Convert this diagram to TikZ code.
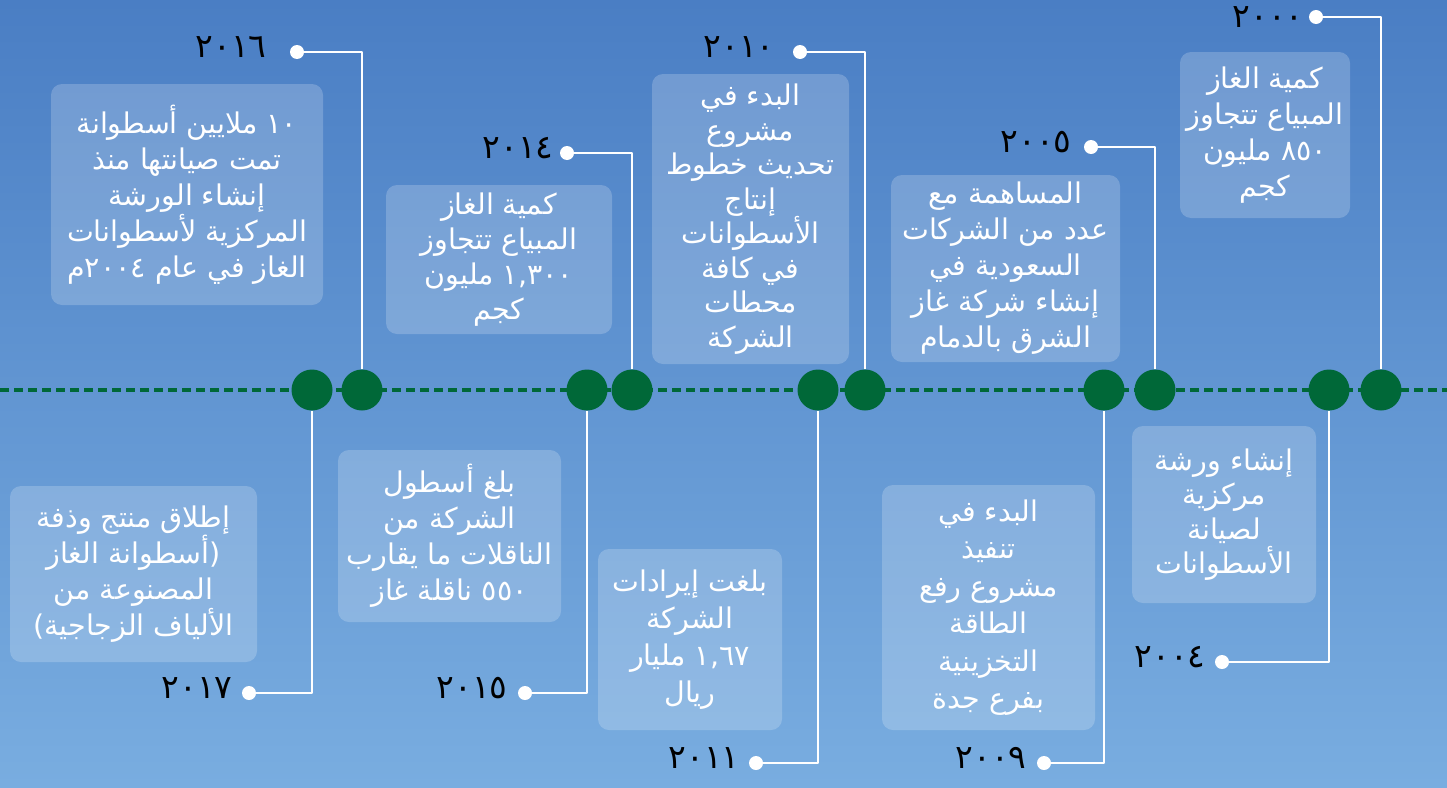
\documentclass[tikz,border=0pt]{standalone}
\usepackage{fontspec}
\usepackage{tikz}
\usetikzlibrary{positioning}
\newfontfamily\arabicfont[Script=Arabic]{DejaVu Sans}
\TeXXeTstate=1
\newcommand{\ar}[1]{\beginR #1\endR}
\definecolor{bgtop}{RGB}{74,126,196}
\definecolor{bgbot}{RGB}{121,173,224}
\definecolor{stopgreen}{RGB}{0,104,56}

\begin{document}
\begin{tikzpicture}[line cap=round,line join=round,x=1pt,y=-1pt,
		evbox/.style={fill=white,fill opacity=0.2,text opacity=1,text=white,rounded corners=11pt,align=center,inner sep=0pt,font=\arabicfont\fontsize{28.5}{36}\selectfont},
		yearlbl/.style={text=black,inner sep=0pt,yshift=5pt,font=\arabicfont\fontsize{33}{33}\selectfont},
		enddot/.style={circle,fill=white,inner sep=0pt,minimum size=14pt},
		stopc/.style={circle,fill=stopgreen,inner sep=0pt,minimum size=41pt},
		stem/.style={white,line width=2.2pt,line cap=butt}]
		% background
		\shade[top color=bgtop,bottom color=bgbot] (0,0) rectangle (1447,787);
		\useasboundingbox (0,0) rectangle (1447,787);
		\draw [stopgreen,line width=4pt,line cap=butt,dash pattern=on 9pt off 5pt] (0,390)-- (1447,390);
		% event boxes, top row
		\node[evbox,minimum width=272pt,minimum height=221pt] (b16) at (187,194.5) {\ar{١٠ ملايين أسطوانة}\\\ar{تمت صيانتها منذ}\\\ar{إنشاء الورشة}\\\ar{المركزية لأسطوانات}\\\ar{الغاز في عام ٢٠٠٤م}};
		\node[evbox,minimum width=226pt,minimum height=149pt,font=\arabicfont\fontsize{28.5}{35}\selectfont] (b14) at (499,259.5) {\ar{كمية الغاز}\\\ar{المبياع تتجاوز}\\\ar{١,٣٠٠ مليون}\\\ar{كجم}};
		\node[evbox,minimum width=197pt,minimum height=290pt,font=\arabicfont\fontsize{28.5}{34.5}\selectfont] (b10) at (750.5,219) {\ar{البدء في}\\\ar{مشروع}\\\ar{تحديث خطوط}\\\ar{إنتاج}\\\ar{الأسطوانات}\\\ar{في كافة}\\\ar{محطات}\\\ar{الشركة}};
		\node[evbox,minimum width=229pt,minimum height=187pt] (b05) at (1005.5,268.5) {\ar{المساهمة مع}\\\ar{عدد من الشركات}\\\ar{السعودية في}\\\ar{إنشاء شركة غاز}\\\ar{الشرق بالدمام}};
		\node[evbox,minimum width=170pt,minimum height=166pt] (b00) at (1265,135) {\ar{كمية الغاز}\\\ar{المبياع تتجاوز}\\\ar{٨٥٠ مليون}\\\ar{كجم}};
		% event boxes, bottom row
		\node[evbox,minimum width=247pt,minimum height=176pt] (b17) at (133.5,574) {\ar{إطلاق منتج وذفة}\\\ar{(أسطوانة الغاز}\\\ar{المصنوعة من}\\\ar{الألياف الزجاجية)}};
		\node[evbox,minimum width=223pt,minimum height=172pt] (b15) at (449.5,536) {\ar{بلغ أسطول}\\\ar{الشركة من}\\\ar{الناقلات ما يقارب}\\\ar{٥٥٠ ناقلة غاز}};
		\node[evbox,minimum width=184pt,minimum height=181pt,font=\arabicfont\fontsize{28.5}{37}\selectfont] (b11) at (690,639.5) {\ar{بلغت إيرادات}\\\ar{الشركة}\\\ar{١,٦٧ مليار}\\\ar{ريال}};
		\node[evbox,minimum width=213pt,minimum height=245pt,font=\arabicfont\fontsize{28.5}{37.5}\selectfont] (b09) at (988.5,607.5) {\ar{البدء في}\\\ar{تنفيذ}\\\ar{مشروع رفع}\\\ar{الطاقة}\\\ar{التخزينية}\\\ar{بفرع جدة}};
		\node[evbox,minimum width=184pt,minimum height=177pt,font=\arabicfont\fontsize{28.5}{34.5}\selectfont] (b04) at (1224,514.5) {\ar{إنشاء ورشة}\\\ar{مركزية}\\\ar{لصيانة}\\\ar{الأسطوانات}};
		% stops on the line
		\node[stopc] (c17) at (312,390) {};
		\node[stopc] (c16) at (362,390) {};
		\node[stopc] (c15) at (587,390) {};
		\node[stopc] (c14) at (632,390) {};
		\node[stopc] (c11) at (818,390) {};
		\node[stopc] (c10) at (865,390) {};
		\node[stopc] (c09) at (1104,390) {};
		\node[stopc] (c05) at (1155,390) {};
		\node[stopc] (c04) at (1329,390) {};
		\node[stopc] (c00) at (1381,390) {};
		% year dots
		\node[enddot] (d16) at (297,52) {};
		\node[enddot] (d14) at (567,153) {};
		\node[enddot] (d10) at (800,52) {};
		\node[enddot] (d05) at (1091,147) {};
		\node[enddot] (d00) at (1316,17) {};
		\node[enddot] (d17) at (249,693) {};
		\node[enddot] (d15) at (525,693) {};
		\node[enddot] (d11) at (756,763) {};
		\node[enddot] (d09) at (1044,763) {};
		\node[enddot] (d04) at (1222,662) {};
		% stems
		\draw [stem] (d16.east) -| (c16.north);
		\draw [stem] (d14.east) -| (c14.north);
		\draw [stem] (d10.east) -| (c10.north);
		\draw [stem] (d05.east) -| (c05.north);
		\draw [stem] (d00.east) -| (c00.north);
		\draw [stem] (d17.east) -| (c17.south);
		\draw [stem] (d15.east) -| (c15.south);
		\draw [stem] (d11.east) -| (c11.south);
		\draw [stem] (d09.east) -| (c09.south);
		\draw [stem] (d04.east) -| (c04.south);
		% years
		\node[yearlbl,left=23pt of d16] (y16) {٢٠١٦};
		\node[yearlbl,left=6pt of d14] (y14) {٢٠١٤};
		\node[yearlbl,left=18pt of d10] (y10) {٢٠١٠};
		\node[yearlbl,left=12pt of d05] (y05) {٢٠٠٥};
		\node[yearlbl,left=5pt of d00,yshift=-5pt] (y00) {٢٠٠٠};
		\node[yearlbl,left=9pt of d17] (y17) {٢٠١٧};
		\node[yearlbl,left=10pt of d15] (y15) {٢٠١٥};
		\node[yearlbl,left=9pt of d11] (y11) {٢٠١١};
		\node[yearlbl,left=10pt of d09] (y09) {٢٠٠٩};
		\node[yearlbl,left=9pt of d04] (y04) {٢٠٠٤};
\end{tikzpicture}
\end{document}
